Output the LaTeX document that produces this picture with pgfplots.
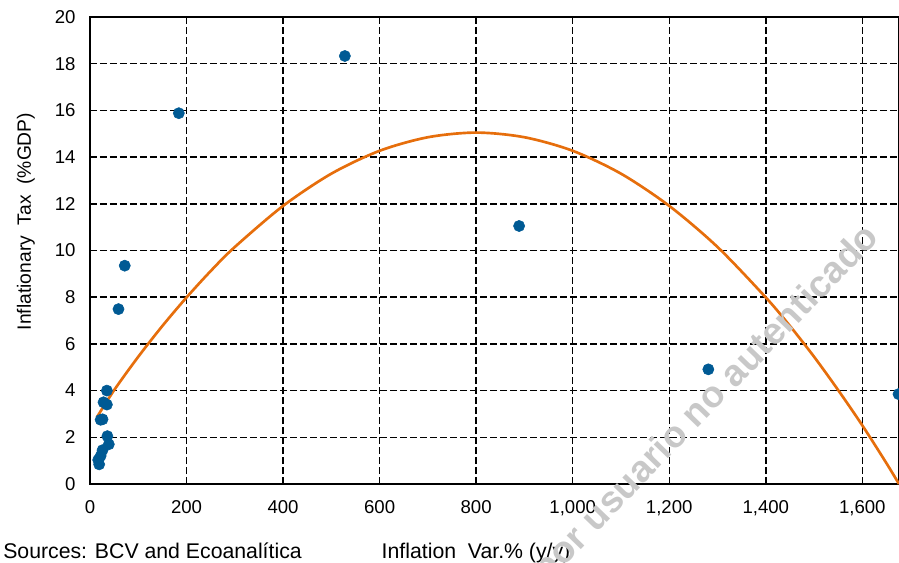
\documentclass[border=0pt]{standalone}
\usepackage{fontspec}
\setmainfont{Liberation Sans}
\usepackage{pgfplots}
\pgfplotsset{compat=1.18}

\definecolor{dotblue}{RGB}{0,90,148}
\definecolor{fitorange}{RGB}{230,110,12}
\definecolor{wmark}{RGB}{200,200,200}

\begin{document}
\begin{tikzpicture}[font=\fontsize{14}{16}\selectfont]
\begin{axis}[
  scale only axis,
  width=606.75bp, height=350.25bp,
  xmin=0, xmax=1676, ymin=0, ymax=20,
  xtick={0,200,...,1600}, ytick={0,2,...,20},
  /pgf/number format/assume math mode=true,
  /pgf/number format/1000 sep={,},
  tick label style={font=\fontsize{14}{16}\selectfont},
  xticklabel style={yshift=-8.5bp},
  yticklabel style={xshift=-7.3bp},
  major tick length=0pt,
  grid=major,
  grid style={black, line width=1.1bp, dash pattern=on 5.25bp off 2.25bp},
  axis line style={black, line width=1bp},
]
  %% fitted quadratic trend
  \addplot[fitorange, line width=2bp, smooth] coordinates {
    (14,2.85) (50,4.02) (100,5.45) (150,6.77) (200,7.99) (250,9.12)
    (300,10.15) (400,11.91) (500,13.29) (600,14.27) (700,14.85)
    (800,15.05) (900,14.85) (1000,14.27) (1100,13.29) (1200,11.91)
    (1300,10.15) (1400,7.99) (1450,6.77) (1500,5.45) (1550,4.02)
    (1600,2.51) (1650,0.89) (1676,0)
  };
  %% observations
  \addplot[only marks, mark=*, mark size=4.2bp, color=dotblue] coordinates {
    (184,15.88) (528,18.33) (889,11.05) (1281,4.91) (1675,3.85)
    (72,9.35) (59,7.49)
    (35,4.0) (28,3.5) (35,3.4) (26,2.77) (22,2.75) (36,2.05) (39,1.7)
    (26,1.45) (22,1.2) (17,1.03) (19,0.84)
  };
\end{axis}
\node[rotate=90, anchor=center, font=\fontsize{14.5}{16}\selectfont]
  at ([xshift=-48bp, yshift=196.9bp]current axis.south west) {Inflationary\ \ Tax\ \ (\%GDP)};
\node[anchor=base west, font=\fontsize{16}{18}\selectfont, inner sep=0pt]
  at ([xshift=-65.25bp, yshift=-55.5bp]current axis.south west) {Sources: BCV and Ecoanalítica};
\node[anchor=base, font=\fontsize{16}{18}\selectfont, inner sep=0pt]
  at ([xshift=289.5bp, yshift=-55.5bp]current axis.south west) {Inflation\ \ Var.\% (y/y)};
\node[wmark, font=\fontsize{28}{30}\bfseries, rotate=46, anchor=east, inner sep=0pt]
  at ([xshift=588bp, yshift=189bp]current axis.south west) {por usuario no autenticado};
\pgfresetboundingbox
\path[use as bounding box] ([xshift=-67.5bp, yshift=-59.25bp]current axis.south west) rectangle ([yshift=12.75bp]current axis.north east);
\end{tikzpicture}
\end{document}
